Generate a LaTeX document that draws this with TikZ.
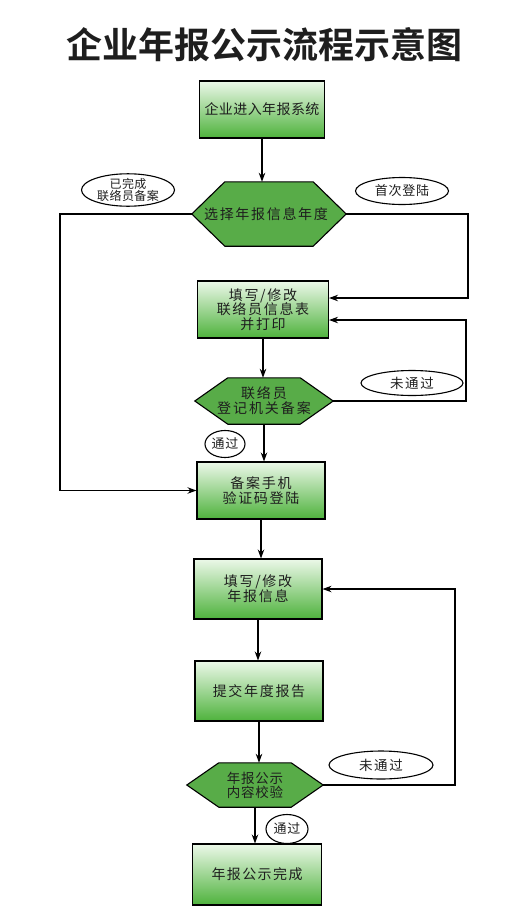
\documentclass[tikz,border=0pt]{standalone}
\usepackage{fontspec}
\setmainfont{Noto Sans CJK SC}[BoldFont={Noto Sans CJK SC Bold}]
\usetikzlibrary{arrows.meta,shapes.geometric}
\definecolor{hexgreen}{RGB}{88,172,72}
\definecolor{boxtop}{RGB}{236,248,233}
\definecolor{boxbot}{RGB}{78,178,60}
\definecolor{txt}{RGB}{30,30,30}
\newcommand\mytrack[1]{\addfontfeature{LetterSpace=#1}}
\tikzset{
  box/.style={draw=black, line width=1.1pt, top color=boxtop, bottom color=boxbot, align=center, inner sep=0pt, text=txt, font=\fontsize{14}{14.5}\selectfont\mytrack{12}},
  hexn/.style={inner sep=0pt, align=center},
  hextxt/.style={inner sep=0pt, align=center, text=txt, font=\fontsize{14}{14.5}\selectfont\mytrack{12}},
  hexfill/.style={fill=hexgreen, draw=black, line width=1.1pt, line join=miter},
  tag/.style={ellipse, draw=black, line width=1.1pt, fill=white, inner sep=0pt, align=center, text=txt, font=\fontsize{12}{12}\selectfont\mytrack{10}},
  arr/.style={line width=1.1pt, -{Stealth[length=9pt,width=6.5pt]}},
}
\begin{document}
\begin{tikzpicture}[x=1pt,y=-1pt]
\useasboundingbox (0,0) rectangle (532,918);
\fill[white] (0,0) rectangle (532,918);
\node[text=txt] (title) at (264,45) {\fontsize{36}{36}\selectfont\bfseries 企业年报公示流程示意图};

% boxes
\node[box, minimum width=125pt, minimum height=57pt, font=\fontsize{14}{14.5}\selectfont\mytrack{3}] (b1) at (262,109.5) {企业进入年报系统};
\node[box, minimum width=131pt, minimum height=57pt] (b2) at (263,309.5) {填写/修改\\联络员信息表\\并打印};
\node[box, minimum width=128pt, minimum height=57pt] (b3) at (261,490.5) {备案手机\\验证码登陆};
\node[box, minimum width=128pt, minimum height=60pt, font=\fontsize{14}{15}\selectfont\mytrack{12}] (b4) at (258,589) {填写/修改\\年报信息};
\node[box, minimum width=128pt, minimum height=60pt] (b5) at (259,691) {提交年度报告};
\node[box, minimum width=129pt, minimum height=61pt, font=\fontsize{14}{14.5}\selectfont\mytrack{10}] (b6) at (257,874.5) {年报公示完成};

% hexagons
\path node[hexn, minimum width=154pt, minimum height=64pt] (h1) at (269,214) {};
\filldraw[hexfill] (h1.west) -- ([xshift=33pt]h1.north west) -- ([xshift=-33pt]h1.north east) -- (h1.east) -- ([xshift=-33pt]h1.south east) -- ([xshift=33pt]h1.south west) -- cycle;
\node[hextxt] (h1t) at ([xshift=-3pt]h1.center) {选择年报信息年度};

\path node[hexn, minimum width=138pt, minimum height=46pt] (h2) at (264,401) {};
\filldraw[hexfill] (h2.west) -- ([xshift=33pt]h2.north west) -- ([xshift=-33pt]h2.north east) -- (h2.east) -- ([xshift=-33pt]h2.south east) -- ([xshift=33pt]h2.south west) -- cycle;
\node[hextxt, font=\fontsize{14}{15}\selectfont\mytrack{14}] (h2t) at (h2) {联络员\\登记机关备案};

\path node[hexn, minimum width=136pt, minimum height=44pt] (h3) at (255,785) {};
\filldraw[hexfill] (h3.west) -- ([xshift=32pt]h3.north west) -- ([xshift=-32pt]h3.north east) -- (h3.east) -- ([xshift=-32pt]h3.south east) -- ([xshift=32pt]h3.south west) -- cycle;
\node[hextxt, font=\fontsize{13.5}{14}\selectfont\mytrack{6}] (h3t) at (h3) {年报公示\\内容校验};

% tags
\node[tag, minimum width=93pt, minimum height=26pt, font=\fontsize{12}{11.7}\selectfont\mytrack{4}] (e1) at (128,190) {已完成\\联络员备案};
\node[tag, minimum width=93pt, minimum height=27pt, font=\fontsize{13}{12}\selectfont\mytrack{6}] (e2) at (402,191) {首次登陆};
\node[tag, minimum width=102pt, minimum height=25pt, font=\fontsize{13.5}{12}\selectfont\mytrack{12}] (e3) at (412,383) {未通过};
\node[tag, minimum width=40pt, minimum height=27pt, font=\fontsize{13}{12}\selectfont\mytrack{6}] (e4) at (225,444) {通过};
\node[tag, minimum width=104pt, minimum height=28pt, font=\fontsize{13.5}{12}\selectfont\mytrack{12}] (e5) at (381,765) {未通过};
\node[tag, minimum width=42pt, minimum height=29pt, font=\fontsize{13}{12}\selectfont\mytrack{6}] (e6) at (287,829) {通过};

% vertical arrows
\draw[arr] (b1.south) -- (b1.south |- h1.north);
\draw[arr] (b2.south) -- (b2.south |- h2.north);
\draw[arr] (h2.south) -- (h2.south |- b3.north);
\draw[arr] (b3.south) -- (b3.south |- b4.north);
\draw[arr] (b4.south) -- (b4.south |- b5.north);
\draw[arr] (b5.south) -- (b5.south |- h3.north);
\draw[arr] (h3.south) -- (h3.south |- b6.north);

% side connectors
\coordinate (cL) at (60,214);
\draw[arr] (h1.west) -- (cL) |- (b3.west);
\coordinate (cR1) at (468,214);
\draw[arr] (h1.east) -- (cR1) |- ([yshift=11.5pt]b2.east);
\coordinate (cR2) at (466,401);
\draw[arr] (h2.east) -- (cR2) |- ([yshift=-10.5pt]b2.east);
\coordinate (cR3) at (455,785);
\draw[arr] (h3.east) -- (cR3) |- (b4.east);
\end{tikzpicture}
\end{document}
